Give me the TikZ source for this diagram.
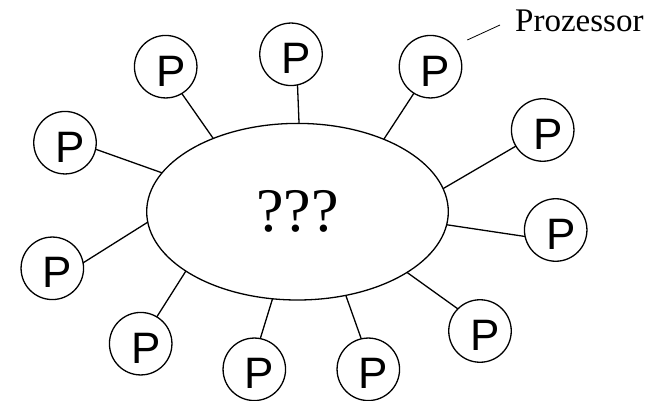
\documentclass[tikz,border=0pt]{standalone}
\usepackage{fontspec}
\setmainfont{Liberation Serif}
\newfontfamily\psans{Liberation Sans}
\usetikzlibrary{shapes.geometric}
\begin{document}
\begin{tikzpicture}[x=1pt,y=1pt,
  proc/.style={circle,draw,line width=1.3pt,minimum size=62.5pt,inner sep=0pt,outer sep=0pt,
    label={[font=\psans\fontsize{44}{44}\selectfont,shift={(5pt,-4.5pt)},inner sep=0pt]center:P}},
  link/.style={line width=1.3pt},
  thin/.style={line width=0.8pt},
  bus/.style={ellipse,draw,line width=1.3pt,minimum width=301.6pt,minimum height=176.6pt,
    inner sep=0pt,outer sep=0pt,font=\fontsize{62}{62}\selectfont}]
\useasboundingbox (0,0) rectangle (646,-401);
\node[bus] (e) at (297.5,-211.7) {???};
\node[proc] (c1) at (65,-142.7) {};
\node[proc] (c2) at (52.3,-268.3) {};
\node[proc] (c3) at (140.7,-343.7) {};
\node[proc] (c4) at (254.3,-369.3) {};
\node[proc] (c5) at (368.3,-369.3) {};
\node[proc] (c6) at (480,-331) {};
\node[proc] (c7) at (555.7,-230) {};
\node[proc] (c8) at (542.7,-130) {};
\node[proc] (c9) at (430.5,-66.7) {};
\node[proc] (c10) at (291,-54.3) {};
\node[proc] (c11) at (165.7,-66.7) {};
\draw[link] (c1.348.2) -- (e.164.7);
\draw[link] (c2.10.7) -- (e.184.8);
\draw[link] (c3.59) -- (e.208.9);
\draw[link] (c4.79.9) -- (e.254.2);
\draw[link] (c5.103.4) -- (e.300.1);
\draw[link] (c6.135.7) -- (e.331.2);
\draw[link] (c7.192.3) -- (e.355.2);
\draw[link] (c8.211.5) -- (e.9.4);
\draw[link] (c9.238.3) -- (e.40.4);
\draw[link] (c10.282.5) -- (e.89.7);
\draw[link] (c11.301) -- (e.139.4);
\node[font=\fontsize{33}{33}\selectfont,anchor=base west,inner sep=0pt] (lbl) at (515,-31.7) {Prozessor};
\coordinate (pa) at (467.3,-40);
\coordinate (pb) at (500,-25);
\draw[thin] (pa) -- (pb);
\end{tikzpicture}
\end{document}
